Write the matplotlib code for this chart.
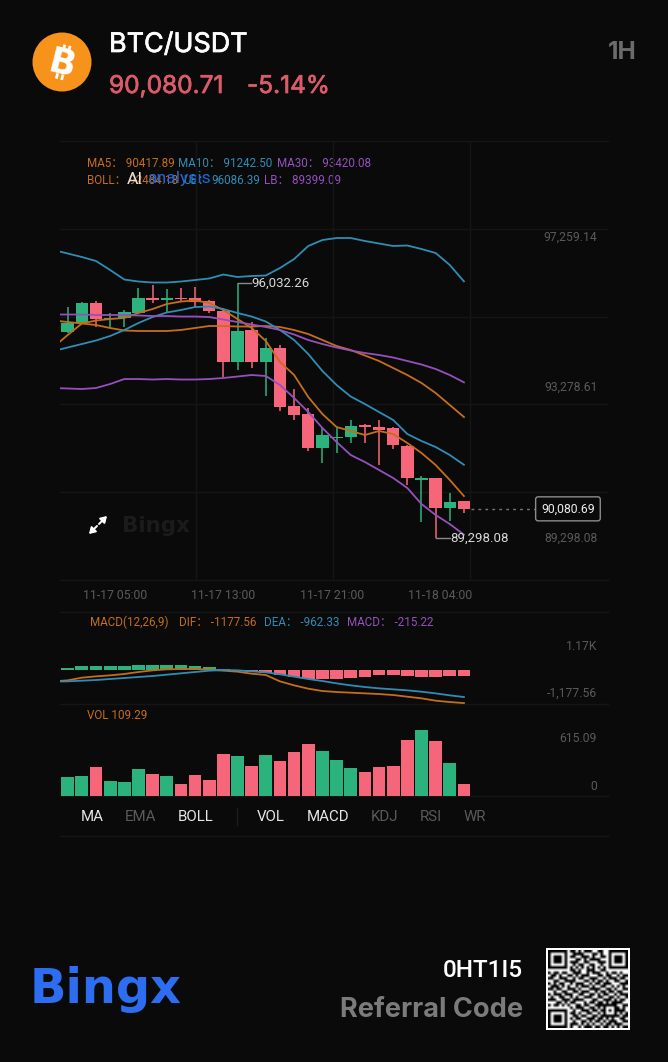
import numpy as np
import matplotlib
matplotlib.use("Agg")
import matplotlib.pyplot as plt
import matplotlib.patheffects as pe
from matplotlib.patches import Circle, Rectangle

BG = "#0a0a0a"
GREEN = "#2cb27d"
RED = "#f5667b"
ORANGE = "#c66d1c"
BLUE = "#2f8db5"
PURPLE = "#9550bd"
GRID = "#151515"
DIM = "#5a5a5a"

opens = [94749, 94995, 95507, 95092, 95111, 95259, 95655, 95594, 95655, 95655,
         95568, 95312, 93949, 94802, 93949, 94335, 92796, 92584, 91679, 91943,
         91969, 92294, 92249, 92223, 91740, 90842, 90887, 90095, 90279]
closes = [94995, 95507, 95084, 95127, 95277, 95655, 95594, 95655, 95620, 95549,
          95304, 93949, 94784, 93949, 94319, 92761, 92550, 91679, 92038, 91985,
          92276, 92233, 92162, 91758, 90887, 90887, 90095, 90261, 90081]
highs = [95417, 95549, 95568, 95259, 95330, 95903, 95990, 95876, 95903, 95945,
         95594, 95375, 96032.26, 95021, 94591, 94406, 93236, 92735, 92249, 92249,
         92426, 92320, 92426, 92233, 91766, 90948, 90887, 90507, 90296]
lows = [94723, 94987, 94881, 94855, 94889, 95243, 95507, 95285, 95549, 95417,
        95243, 93569, 93746, 93807, 93060, 92672, 92426, 91616, 91299, 91547,
        91811, 91811, 91238, 91652, 90710, 89725, 89298.08, 89760, 89979]

# lines start one candle earlier, they get clipped at the left edge
ub = [96914, 96822, 96729, 96624, 96386, 96135, 96082, 96056, 96056, 96082,
      96122, 96162, 96267, 96201, 96228, 96241, 96439, 96676, 97020, 97178,
      97231, 97231, 97152, 97086, 97020, 97033, 96940, 96835, 96518, 96086.39]
boll = [95053, 95013, 94974, 94934, 94855, 94789, 94776, 94776, 94776, 94802,
        94855, 94908, 94908, 94894, 94894, 94908, 94881, 94802, 94696, 94538,
        94380, 94274, 94129, 93984, 93799, 93614, 93403, 93139, 92822, 92505]
lb = [93271, 93258, 93244, 93271, 93376, 93508, 93508, 93495, 93508, 93495,
      93495, 93508, 93535, 93574, 93614, 93588, 93350, 93007, 92637, 92215,
      91845, 91502, 91317, 91106, 90895, 90631, 90208, 89918, 89680, 89399.09]
ma5 = [94353, 94670, 94974, 95053, 95092, 95119, 95251, 95356, 95488, 95554,
       95581, 95515, 95330, 95092, 94855, 94512, 93957, 93614, 93033, 92584,
       92241, 92136, 92030, 92136, 92056, 91819, 91555, 91238, 90842, 90417.89]
ma10 = [94248, 94340, 94432, 94525, 94644, 94802, 94987, 95145, 95264, 95330,
        95409, 95422, 95356, 95251, 95158, 95026, 94802, 94538, 94168, 93720,
        93350, 93046, 92848, 92637, 92426, 92056, 91872, 91713, 91502, 91242.50]
ma30 = [95211, 95211, 95211, 95198, 95198, 95198, 95185, 95172, 95172, 95158,
        95158, 95145, 95079, 95013, 94947, 94881, 94802, 94683, 94538, 94432,
        94340, 94261, 94195, 94142, 94076, 93984, 93891, 93772, 93614, 93420.08]

macd_bars = [71, 154, 154, 154, 154, 178, 178, 178, 166, 142, 107, 36, -36, -71, -107,
             -190, -249, -309, -320, -332, -285, -237, -190, -166, -202, -237, -237,
             -225, -215.22]
dif = [-404, -368, -273, -226, -190, -142, -71, -12, 24, 36, 36, 12, -24, -59, -131,
       -178, -404, -546, -665, -748, -783, -807, -831, -855, -890, -950, -1009, -1092,
       -1140, -1177.56]
dea = [-415, -404, -380, -356, -320, -285, -249, -214, -166, -119, -71, -24, 0, -12,
       -47, -83, -154, -237, -320, -392, -475, -546, -605, -653, -688, -724, -772,
       -831, -902, -962.33]
volumes = [181, 187, 271, 144, 134, 253, 209, 187, 115, 197, 147, 396, 374, 278, 381,
           324, 409, 487, 421, 340, 259, 225, 275, 284, 527, 615.09, 512, 312, 109.29]

time_ticks = [3.32, 11, 18.68, 26.3]
time_labels = ["11-17 05:00", "11-17 13:00", "11-17 21:00", "11-18 04:00"]
axis_prices = [97259.14, 93278.61, 89298.08]

qr_rows = [
    "11111110110101110011001111111",
    "10000010011110001101001000001",
    "10111010110011101001101011101",
    "10111010001101011110001011101",
    "10111010111001100011101011101",
    "10000010010110011001001000001",
    "11111110101010101010101111111",
    "00000000110100111001100000000",
    "10110110011100101110010110100",
    "01101001101011100011011001011",
    "11001110010110011100101110110",
    "00110011110001101011010011001",
    "10101100101110010110111000111",
    "01110101001011101001100101010",
    "11011001110100011110011010011",
    "00100110011011100101101101100",
    "10111011100110011010110010111",
    "01001100101001110011001101001",
    "11100111011110001100111010110",
    "00011010110001011011010111100",
    "10110101001101100111111110011",
    "00000000101110011010100011010",
    "11111110010011101101101011110",
    "10000010110100110010100010101",
    "10111010011011001101111111011",
    "10111010101100111011010100110",
    "10111010010011010110101110011",
    "10000010111010101001011011100",
    "11111110100101110110110101011",
]

W, H = 668, 1062
fig = plt.figure(figsize=(W / 100, H / 100), dpi=100, facecolor=BG)
plt.rcParams["font.family"] = ["Roboto", "Noto Sans CJK SC", "DejaVu Sans"]


def px_axes(x0, y0, x1, y1):
    ax = fig.add_axes([x0 / W, 1 - y1 / H, (x1 - x0) / W, (y1 - y0) / H])
    ax.set_facecolor("none")
    ax.tick_params(length=0)
    for s in ax.spines.values():
        s.set_visible(False)
    return ax


# overlay in pixel units for header, footer and small furniture
ov = px_axes(0, 0, W, H)
ov.set_xlim(0, W)
ov.set_ylim(H, 0)
ov.axis("off")

idx = np.arange(len(opens))
line_idx = np.arange(-1, len(opens))
xlim = (-0.544, 38.18)

# main chart
ax = px_axes(60, 141, 608, 580)
ax.set_xlim(*xlim)
ax.set_ylim(88202, 99792)
ax.set_xticks(time_ticks)
ax.set_xticklabels(time_labels, color=DIM, fontsize=8.8)
ax.tick_params(axis="x", pad=6.5)
ax.set_yticks([])
ax.axhline(88202, color=GRID, lw=1, clip_on=False)
ax.axhline(99792, color=GRID, lw=1, clip_on=False)
for p in np.linspace(88202, 99792, 6)[1:-1]:
    ax.axhline(p, color=GRID, lw=1, zorder=0)
for x in (9.07, 18.75, 28.43):
    ax.axvline(x, color=GRID, lw=1, zorder=0)

colors = [GREEN if c > o else RED for o, c in zip(opens, closes)]
ax.vlines(idx, lows, highs, colors=colors, lw=1.1, zorder=2)
bottoms = [min(o, c) for o, c in zip(opens, closes)]
heights = [max(abs(c - o), 40) for o, c in zip(opens, closes)]
ax.bar(idx, heights, bottom=bottoms, width=0.88, color=colors, zorder=2)

for vals, col in [(ub, BLUE), (boll, ORANGE), (lb, PURPLE),
                  (ma5, ORANGE), (ma10, BLUE), (ma30, PURPLE)]:
    ax.plot(line_idx, vals, color=col, lw=1.3, zorder=3)

for p in axis_prices:
    ax.text(37.44, p, f"{p:,.2f}", color=DIM, fontsize=8.7, ha="right", va="center")

ax.plot([12, 12.95], [96032.26, 96032.26], color="#8a8a8a", lw=1, zorder=3)
ax.text(12.98, 96032.26, "96,032.26", color="#d8d8d8", fontsize=9.5, va="center")
ax.plot([26, 27.0], [89298.08, 89298.08], color="#8a8a8a", lw=1, zorder=3)
ax.text(27.03, 89298.08, "89,298.08", color="#d8d8d8", fontsize=9.5, va="center", zorder=5)

ax.plot([28.5, 33], [90080.69, 90080.69], color="#777777", lw=1, ls=(0, (2, 3)))
ax.text(35.35, 90080.69, "90,080.69", color="#eeeeee", fontsize=8.8,
        ha="center", va="center",
        bbox=dict(boxstyle="round,pad=0.45,rounding_size=0.2", fc=BG, ec="#8c8c8c", lw=1))

# macd panel
ax2 = px_axes(60, 612, 608, 704)
ax2.set_xlim(*xlim)
ax2.set_ylim(-1210, 2065)
ax2.set_xticks([])
ax2.set_yticks([])
ax2.axhline(2065, color=GRID, lw=1, clip_on=False)
ax2.axhline(-1210, color=GRID, lw=1, clip_on=False)
ax2.bar(idx, macd_bars, width=0.9, color=[GREEN if v > 0 else RED for v in macd_bars], zorder=2)
ax2.plot(line_idx, dif, color=ORANGE, lw=1.3, zorder=3)
ax2.plot(line_idx, dea, color=BLUE, lw=1.3, zorder=3)

# volume panel
ax3 = px_axes(60, 704, 608, 796)
ax3.set_xlim(*xlim)
ax3.set_ylim(0, 861)
ax3.set_xticks([])
ax3.set_yticks([])
ax3.axhline(0, color=GRID, lw=1, clip_on=False)
ax3.bar(idx, volumes, width=0.9, color=colors, zorder=2)

# header
ov.add_patch(Circle((62, 62), 29.5, color="#f7931a", lw=0))
ov.text(62, 65, "B", color="white", fontsize=25, fontweight="bold", rotation=-14,
        ha="center", va="center", family="DejaVu Sans")
# the two stems of the bitcoin sign
up = np.array([0.242, -0.97])
right = np.array([0.97, 0.242])
for side in (1, -1):
    for off in (-1.5, 4):
        a = np.array([62, 62]) + side * 12 * up + off * right
        b = a + side * 5.5 * up
        ov.plot([a[0], b[0]], [a[1], b[1]], color="white", lw=2, solid_capstyle="butt")

medium = [pe.withStroke(linewidth=0.5, foreground="white")]
medium_red = [pe.withStroke(linewidth=0.5, foreground="#dc5b6b")]
ov.text(109, 52, "BTC/USDT", color="white", fontsize=19.4, family="Inter", path_effects=medium)
ov.text(109, 93, "90,080.71", color="#dc5b6b", fontsize=17.6, family="Inter", path_effects=medium_red)
ov.text(247, 93, "-5.14%", color="#dc5b6b", fontsize=17.6, family="Inter", path_effects=medium_red)
ov.text(637, 59, "1H", color="#6b6b6b", fontsize=17.5, family="Inter", fontweight="bold", ha="right")

# legends
lg = 8.4
ov.text(87, 163.5, "MA5\uff1a 90417.89", color=ORANGE, fontsize=lg, va="center")
ov.text(178, 163.5, "MA10\uff1a 91242.50", color=BLUE, fontsize=lg, va="center")
ov.text(277, 163.5, "MA30\uff1a 93420.08", color=PURPLE, fontsize=lg, va="center")
ov.text(87, 181, "BOLL\uff1a 92484.18", color=ORANGE, fontsize=lg, va="center")
ov.text(183, 181, "UB\uff1a", color=BLUE, fontsize=lg, va="center")
ov.text(211, 181, "96086.39", color=BLUE, fontsize=lg, va="center")
ov.text(264, 181, "LB\uff1a 89399.09", color=PURPLE, fontsize=lg, va="center")
ov.text(127, 179, "AI", color="#e0e0e0", fontsize=12.6, va="center")
ov.text(147, 179, "analysis", color="#2366d1", fontsize=12.6, va="center")
ov.text(90, 622, "MACD(12,26,9)", color=ORANGE, fontsize=lg, va="center")
ov.text(179, 622, "DIF\uff1a -1177.56", color=ORANGE, fontsize=lg, va="center")
ov.text(264, 622, "DEA\uff1a -962.33", color=BLUE, fontsize=lg, va="center")
ov.text(347, 622, "MACD\uff1a -215.22", color=PURPLE, fontsize=lg, va="center")
ov.text(87, 715.5, "VOL 109.29", color=ORANGE, fontsize=lg, va="center")

# right labels of the lower panels
ov.text(597, 646, "1.17K", color=DIM, fontsize=8.7, ha="right", va="center")
ov.text(597, 693, "-1,177.56", color=DIM, fontsize=8.7, ha="right", va="center")
ov.text(597, 738, "615.09", color=DIM, fontsize=8.7, ha="right", va="center")
ov.text(597, 786, "0", color=DIM, fontsize=8.7, ha="right", va="center")

# watermark and expand icon
ov.text(122, 532, "Bingx", color="#1b1b1b", fontsize=15.4, fontweight="bold", family="DejaVu Sans")
for a, b in [((97, 526), (89, 534)), ((99, 524), (107, 516))]:
    ov.annotate("", xy=b, xytext=a,
                arrowprops=dict(arrowstyle="-|>,head_width=0.22,head_length=0.35", color="white",
                                lw=1.4, shrinkA=0, shrinkB=0))

# indicator tabs
tabs = [("MA", 92, "#e6e6e6"), ("EMA", 141, DIM), ("BOLL", 196, "#e6e6e6"),
        ("VOL", 271, "#e6e6e6"), ("MACD", 328, "#e6e6e6"), ("KDJ", 385, DIM),
        ("RSI", 431, DIM), ("WR", 475, DIM)]
for name, x, col in tabs:
    ov.text(x, 817, name, color=col, fontsize=10.8, ha="center", va="center")
ov.plot([237, 237], [808, 825], color="#1c1c1c", lw=1)
ov.plot([60, 608], [836, 836], color=GRID, lw=1)

# footer
ov.text(30, 1003, "Bingx", color="#2c6df2", fontsize=34.5, fontweight="bold", family="DejaVu Sans")
ov.text(523, 977, "0HT1I5", color="white", fontsize=17.5, fontweight="medium", ha="right")
ov.text(523, 1017, "Referral Code", color="#7b7b7b", fontsize=19.5, fontweight="bold",
        family="Inter", ha="right")

ov.add_patch(Rectangle((546, 948), 84, 82, color="white", lw=0))
qr = np.array([[1 - int(c) for c in row] for row in qr_rows])
ov.imshow(qr, cmap="gray", extent=(548, 628, 1028, 950), aspect="auto",
          interpolation="bilinear", zorder=2)
ov.set_xlim(0, W)
ov.set_ylim(H, 0)

fig.savefig("out.png", dpi=100, facecolor=BG)
